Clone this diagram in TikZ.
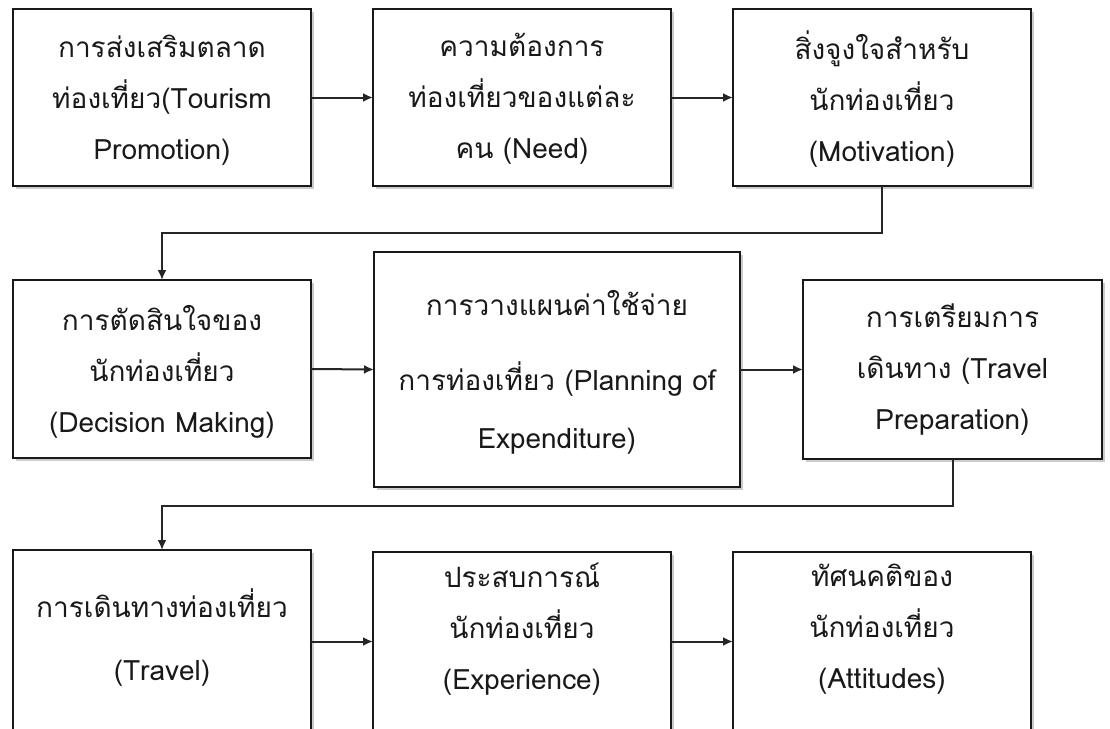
\documentclass[tikz,border=0pt]{standalone}
\usepackage{fontspec}
\setmainfont[Script=Thai]{Loma}
\usetikzlibrary{arrows.meta,shadows}
\begin{document}
\begin{tikzpicture}[x=1pt,y=-1pt,
  box/.style={draw=black!90, line width=2.4pt, rectangle, inner sep=0pt, outer sep=0pt,
    fill=white, drop shadow={shadow xshift=2.5pt, shadow yshift=-3pt, opacity=0.4}},
  txt/.style={align=center, inner sep=0pt, font=\fontsize{28}{51}\selectfont, text=black!90},
  arr/.style={draw=black!85, line width=2pt, -{Latex[length=10pt,width=9pt]}}]
\useasboundingbox (0,0) rectangle (1110,728);
\begin{scope}
\clip (0,0) rectangle (1110,728);
% row 1
\node[box, minimum width=298pt, minimum height=177pt] (b1) at (162,97.5) {};
\node[box, minimum width=298pt, minimum height=177pt] (b2) at (522,97.5) {};
\node[box, minimum width=298pt, minimum height=177pt] (b3) at (882,97.5) {};
% row 2
\node[box, minimum width=298pt, minimum height=178pt] (b4) at (162,369) {};
\node[box, minimum width=366pt, minimum height=235pt] (b5) at (557,369.5) {};
\node[box, minimum width=299pt, minimum height=179pt] (b6) at (952.5,369.5) {};
% row 3
\node[box, minimum width=298pt, minimum height=183pt] (b7) at (162,641.5) {};
\node[box, minimum width=298pt, minimum height=181pt] (b8) at (522,642.5) {};
\node[box, minimum width=298pt, minimum height=181pt] (b9) at (882,642.5) {};
\end{scope}
% texts
\node[txt] (t1) at (162,100) {การส่งเสริมตลาด\\ท่องเที่ยว(Tourism\\Promotion)};
\node[txt] (t2) at (522,99) {ความต้องการ\\ท่องเที่ยวของแต่ละ\\คน (Need)};
\node[txt] (t3) at (882,99) {สิ่งจูงใจสำหรับ\\นักท่องเที่ยว\\(Motivation)};
\node[txt] (t4) at (162,372) {การตัดสินใจของ\\นักท่องเที่ยว\\(Decision Making)};
\node[txt] (t5) at (557,372) {การวางแผนค่าใช้จ่าย\\[24pt]การท่องเที่ยว (Planning of\\[7pt]Expenditure)};
\node[txt] (t6) at (952.5,370) {การเตรียมการ\\เดินทาง (Travel\\Preparation)};
\node[txt] (t7) at (162,638) {การเดินทางท่องเที่ยว\\[12pt](Travel)};
\node[txt] (t8) at (522,629) {ประสบการณ์\\นักท่องเที่ยว\\(Experience)};
\node[txt] (t9) at (882,629) {ทัศนคติของ\\นักท่องเที่ยว\\(Attitudes)};
% connectors
\draw[arr] (b1.east) -- (b2.west);
\draw[arr] (b2.east) -- (b3.west);
\draw[arr] (b3.south) -- ++(0,47) -| (b4.north);
\draw[arr] (b4.east) -- (b5.west);
\draw[arr] (b5.east) -- (b6.west);
\draw[arr] (b6.south) -- ++(0,47) -| (b7.north);
\draw[arr] (b7.east) -- (b8.west |- b7.east);
\draw[arr] (b8.east |- b7.east) -- (b9.west |- b7.east);
\end{tikzpicture}
\end{document}
